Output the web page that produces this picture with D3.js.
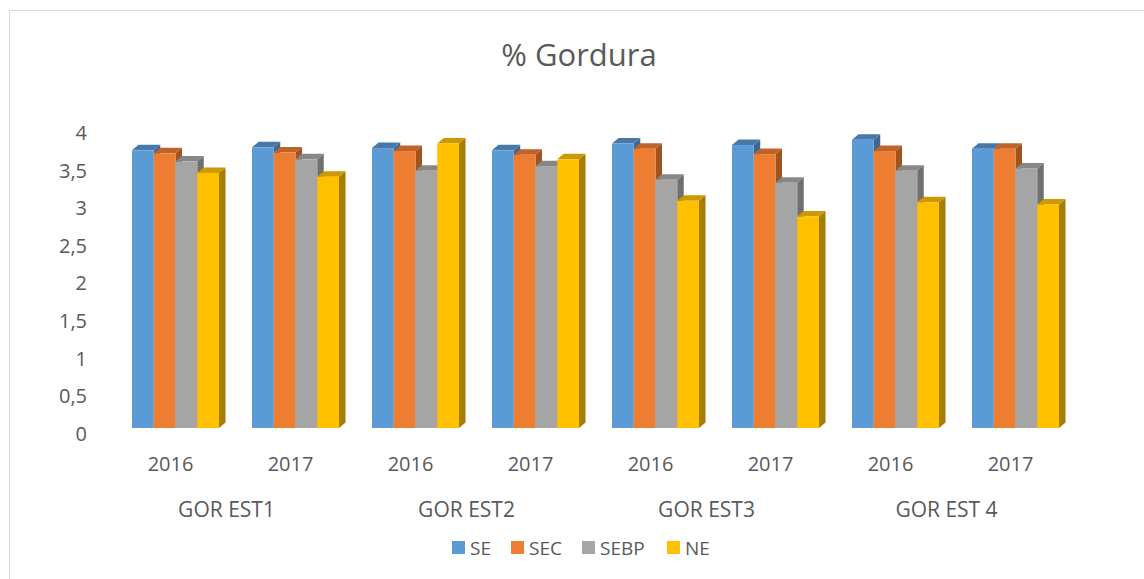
<!DOCTYPE html>
<html>
<head>
<meta charset="utf-8">
<script src="https://cdn.jsdelivr.net/npm/d3@7"></script>
<style>
  html, body { margin: 0; padding: 0; background: #fff; }
  svg { display: block; }
</style>
</head>
<body>
<svg id="chart" width="1144" height="579"></svg>
<script>
// ---- Data ----
const groups = ["GOR EST1", "GOR EST2", "GOR EST3", "GOR EST 4"];
const years = ["2016", "2017"];
const series = ["SE", "SEC", "SEBP", "NE"];
// values per category in order: EST1-2016, EST1-2017, EST2-2016, EST2-2017, EST3-2016, EST3-2017, EST4-2016, EST4-2017
const SE   = [3.69, 3.73, 3.72, 3.69, 3.78, 3.76, 3.83, 3.71];
const SEC  = [3.65, 3.66, 3.68, 3.63, 3.71, 3.64, 3.68, 3.71];
const SEBP = [3.54, 3.57, 3.42, 3.48, 3.30, 3.26, 3.42, 3.45];
const NE   = [3.39, 3.34, 3.78, 3.57, 3.02, 2.81, 3.00, 2.97];
const yTicks = [0, 0.5, 1, 1.5, 2, 2.5, 3, 3.5, 4];

const seriesValues = [SE, SEC, SEBP, NE];
const frontColors = ["#5B9BD5", "#ED7D31", "#A5A5A5", "#FFC000"];
const topColors   = ["#4878A8", "#C0632A", "#878787", "#CC9A00"];
const sideColors  = ["#3D6892", "#A0541F", "#6F6F6F", "#A67D00"];

const categories = [];
groups.forEach(g => years.forEach(y => categories.push({group: g, year: y})));

const svg = d3.select("#chart");
const font = "'Open Sans', 'Noto Sans', sans-serif";
const textColor = "#595959";

// chart border
svg.append("rect")
  .attr("x", 9.5).attr("y", 10.5)
  .attr("width", 1140).attr("height", 580)
  .attr("fill", "none").attr("stroke", "#D9D9D9").attr("stroke-width", 1);

// title
svg.append("text")
  .attr("x", 579).attr("y", 66)
  .attr("text-anchor", "middle")
  .attr("font-family", font).attr("font-size", 31)
  .attr("fill", textColor)
  .text("% Gordura");

// scales
const x = d3.scaleBand()
  .domain(d3.range(categories.length))
  .range([115.5, 1075.5])
  .paddingInner(0.275)
  .paddingOuter(0.1375);
const xs = d3.scaleBand()
  .domain(series)
  .range([0, x.bandwidth()])
  .padding(0);
const y = d3.scaleLinear().domain([0, 4]).range([428, 127]);

const dx = 6.5, dy = 5.5;

// y axis labels (offset slightly below the floor plane as in the reference)
const yAxis = d3.axisLeft(y).tickValues(yTicks)
  .tickFormat(d => d3.format("")(d).replace(".", ","))
  .tickSize(0).tickPadding(0);
const ya = svg.append("g").attr("transform", "translate(87,6)").call(yAxis);
ya.select(".domain").remove();
ya.selectAll("text")
  .attr("font-family", font).attr("font-size", 20)
  .attr("fill", textColor);

// bars
const cat = svg.append("g");
categories.forEach((c, i) => {
  const g = cat.append("g").attr("transform", `translate(${x(i)},0)`);
  series.forEach((s, k) => {
    const v = seriesValues[k][i];
    const x0 = xs(s), w = xs.bandwidth();
    const yt = y(v), yb = y(0);
    // side
    g.append("path")
      .attr("d", `M${x0 + w},${yt} L${x0 + w + dx},${yt - dy} L${x0 + w + dx},${yb - dy} L${x0 + w},${yb} Z`)
      .attr("fill", sideColors[k]);
    // top
    g.append("path")
      .attr("d", `M${x0},${yt} L${x0 + dx},${yt - dy} L${x0 + w + dx},${yt - dy} L${x0 + w},${yt} Z`)
      .attr("fill", topColors[k]);
    // front
    g.append("rect")
      .attr("x", x0).attr("y", yt)
      .attr("width", w).attr("height", yb - yt)
      .attr("fill", frontColors[k]);
  });
});

// year labels
svg.append("g").selectAll("text").data(categories).join("text")
  .attr("x", (d, i) => x(i) + x.bandwidth() / 2 - 5)
  .attr("y", 471)
  .attr("text-anchor", "middle")
  .attr("font-family", font).attr("font-size", 20)
  .attr("fill", textColor)
  .text(d => d.year);

// group labels
svg.append("g").selectAll("text").data(groups).join("text")
  .attr("x", (d, gi) => (x(gi * 2) + x(gi * 2 + 1) + x.bandwidth()) / 2 - 9)
  .attr("y", 517)
  .attr("text-anchor", "middle")
  .attr("font-family", font).attr("font-size", 21)
  .attr("fill", textColor)
  .text(d => d);

// legend
const legendX = [452, 511, 582, 667];
const lg = svg.append("g");
series.forEach((s, k) => {
  lg.append("rect")
    .attr("x", legendX[k]).attr("y", 541)
    .attr("width", 13).attr("height", 13)
    .attr("fill", frontColors[k]);
  lg.append("text")
    .attr("x", legendX[k] + 18).attr("y", 555)
    .attr("font-family", font).attr("font-size", 19)
    .attr("fill", textColor)
    .text(s);
});
</script>
</body>
</html>
